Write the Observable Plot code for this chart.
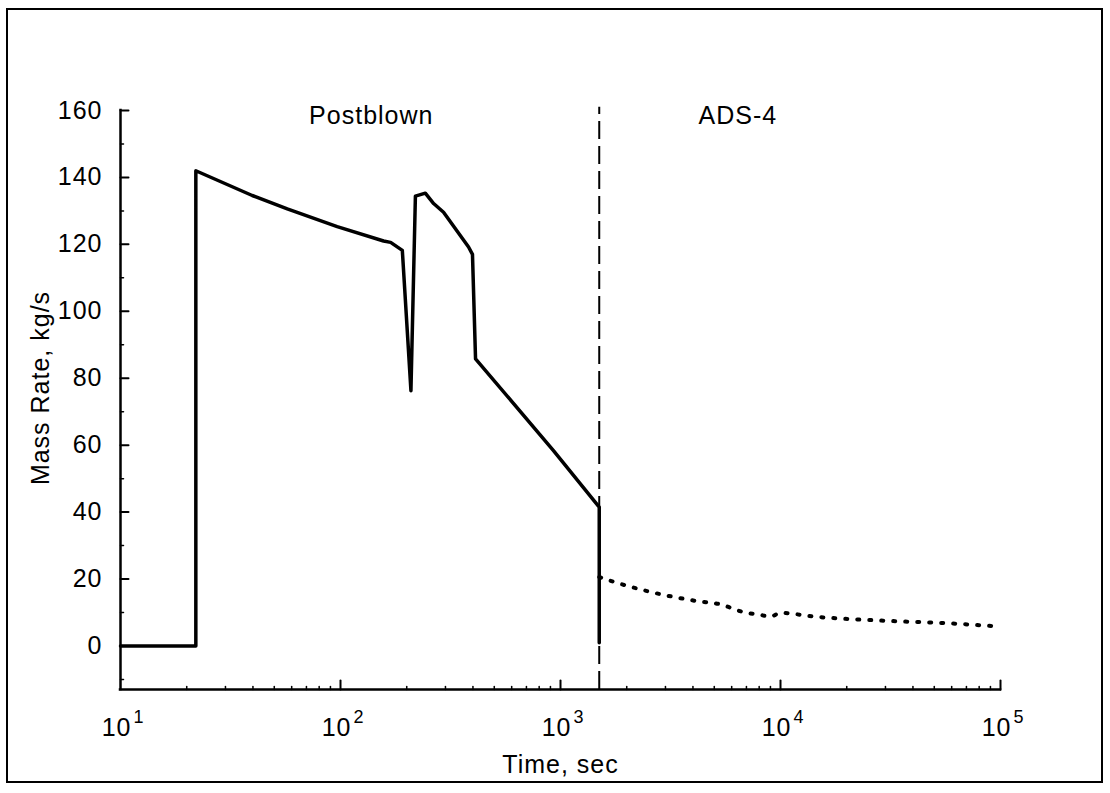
<!DOCTYPE html>
<html>
<head>
<meta charset="utf-8">
<script src="https://cdn.jsdelivr.net/npm/d3@7"></script>
<script src="https://cdn.jsdelivr.net/npm/@observablehq/plot@0.6"></script>
<style>
  html, body { margin: 0; padding: 0; background: #fff; }
  #wrap { position: relative; width: 1110px; height: 793px; }
  #border { position: absolute; left: 6px; top: 8px; width: 1097px; height: 775px; border: 2px solid #000; box-sizing: border-box; pointer-events: none; }
</style>
</head>
<body>
<div id="wrap"><div id="chart"></div><div id="border"></div></div>
<script>
// Break flow, postblowdown phase (time s, mass rate kg/s)
const blowTime = [10, 22, 22, 39.7, 57.3, 96.6, 157, 169, 191, 209, 219, 243, 265, 294, 382, 398, 411, 929, 1500, 1500];
const blowRate = [0, 0, 142, 134.6, 130.6, 125.3, 121, 120.6, 118.2, 76.3, 134.4, 135.3, 132.2, 129.6, 119.2, 117, 85.8, 58.4, 41.5, 1];

// ADS-4 phase
const adsTime = [1500, 1720, 2477, 4180, 5430, 6110, 6790, 7940, 9010, 10000, 14130, 28500, 57300, 95000];
const adsRate = [20.6, 19.3, 16.4, 13.4, 12.3, 11.1, 10.1, 9.4, 8.8, 9.9, 8.8, 7.6, 6.8, 5.9];

// Phase boundary and labels
const switchTime = 1500;
const phaseNames = ["Postblown", "ADS-4"];
const phaseLabelTime = [138, 6400];

// Axis ticks
const yDomain = [-13, 160];
const yMajor = [0, 20, 40, 60, 80, 100, 120, 140, 160];
const yMinor = [-10, 10, 30, 50, 70, 90, 110, 130, 150];
const xDecades = [10, 100, 1000, 10000, 100000];
const xExponents = ["1", "2", "3", "4", "5"];
const minorSteps = [2, 3, 4, 5, 6, 7, 8, 9];
const xMinor = xDecades.slice(0, -1).flatMap(d => minorSteps.map(m => m * d));

const blow = blowTime.map((t, i) => ({t, rate: blowRate[i]}));
const ads = adsTime.map((t, i) => ({t, rate: adsRate[i]}));
const phases = phaseNames.map((name, i) => ({name, t: phaseLabelTime[i]}));

// Tick drawn as a plain stroke of the given length
const tickShape = {draw(context, l) { context.moveTo(0, 0); context.lineTo(0, -l); }};
const y0 = yDomain[0];

const chart = Plot.plot({
  width: 1110,
  height: 793,
  marginLeft: 120,
  marginRight: 110,
  marginTop: 110,
  marginBottom: 104,
  style: {fontFamily: "'Liberation Sans', Arial, sans-serif", fontSize: "25px", color: "#000", letterSpacing: "1px", background: "#fff"},
  x: {type: "log", domain: [10, 100000], axis: null},
  y: {domain: yDomain, axis: null},
  marks: [
    // axis lines
    Plot.ruleX([10], {y1: y0, y2: 160, stroke: "#000", strokeWidth: 2.5, strokeLinecap: "square"}),
    Plot.ruleY([y0], {x1: 10, x2: 100000, stroke: "#000", strokeWidth: 2.5, strokeLinecap: "square"}),
    // y ticks pointing inward
    Plot.vector(yMajor, {x: 10, y: d => d, length: 8, rotate: 90, anchor: "start", shape: tickShape, stroke: "#000", strokeWidth: 2}),
    Plot.vector(yMinor, {x: 10, y: d => d, length: 3, rotate: 90, anchor: "start", shape: tickShape, stroke: "#000", strokeWidth: 1.5}),
    // x ticks pointing inward
    Plot.vector(xDecades.slice(1), {x: d => d, y: y0, length: 9, rotate: 0, anchor: "start", shape: tickShape, stroke: "#000", strokeWidth: 2}),
    Plot.vector(xMinor, {x: d => d, y: y0, length: 3, rotate: 0, anchor: "start", shape: tickShape, stroke: "#000", strokeWidth: 1.5}),
    // y tick labels
    Plot.axisY({ticks: yMajor, tickSize: 0, tickPadding: 18, fontSize: 25, label: null, anchor: "left"}),
    // x tick labels as 10 with a raised exponent
    Plot.text(xDecades, {x: d => d, y: y0, text: () => "10", textAnchor: "end", lineAnchor: "bottom", dx: 11, dy: 46, fontSize: 25}),
    Plot.text(xDecades, {x: d => d, y: y0, text: (d, i) => xExponents[i], textAnchor: "start", lineAnchor: "bottom", dx: 13, dy: 33, fontSize: 18}),
    // axis titles
    Plot.text(["Time, sec"], {frameAnchor: "bottom", textAnchor: "middle", lineAnchor: "bottom", dy: 83, fontSize: 25}),
    Plot.text(["Mass Rate, kg/s"], {frameAnchor: "left", textAnchor: "middle", lineAnchor: "middle", rotate: -90, dx: -80, dy: -12, fontSize: 25}),
    // phase boundary
    Plot.ruleX([switchTime], {y1: y0, y2: 161, stroke: "#000", strokeWidth: 2, strokeDasharray: "18,7"}),
    // phase labels
    Plot.text(phases, {x: "t", y: 156, text: "name", lineAnchor: "bottom", fontSize: 25}),
    // mass rate curves
    Plot.line(blow, {x: "t", y: "rate", stroke: "#000", strokeWidth: 3.5, strokeLinejoin: "round"}),
    Plot.line(ads, {x: "t", y: "rate", stroke: "#000", strokeWidth: 4, strokeLinecap: "round", strokeDasharray: "2,10", curve: "monotone-x"})
  ]
});

document.getElementById("chart").append(chart);
</script>
</body>
</html>
